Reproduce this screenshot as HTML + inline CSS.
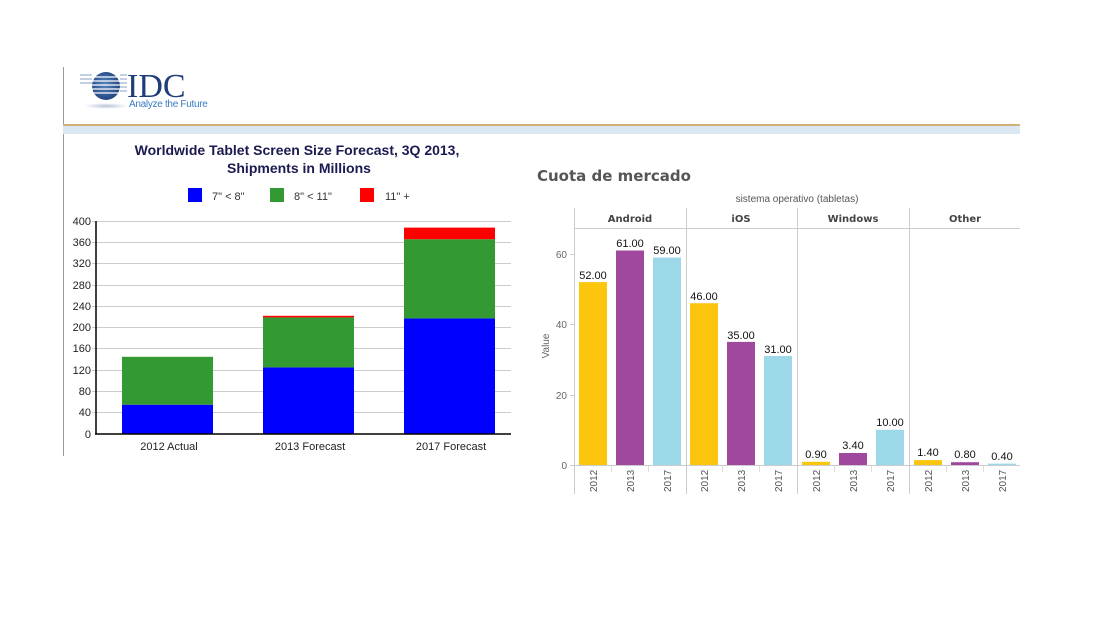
<!DOCTYPE html>
<html><head><meta charset="utf-8"><style>
html,body{margin:0;padding:0;background:#fff;}
svg{display:block;font-family:"Liberation Sans",Arial,sans-serif;}
</style></head><body>
<svg width="1118" height="620" viewBox="0 0 1118 620" xmlns="http://www.w3.org/2000/svg">
<rect width="1118" height="620" fill="#fff"/>
<!-- left border -->
<line x1="63.5" y1="67" x2="63.5" y2="456" stroke="#9a9a9a" stroke-width="1"/>
<!-- logo -->
<defs><radialGradient id="g" cx="45%" cy="45%" r="60%"><stop offset="0" stop-color="#5a86c0"/><stop offset="1" stop-color="#1c3f7a"/></radialGradient>
<radialGradient id="sh" cx="50%" cy="50%" r="50%"><stop offset="0" stop-color="#b8c4d8"/><stop offset="1" stop-color="#fff"/></radialGradient></defs>
<ellipse cx="106" cy="106" rx="22" ry="3" fill="url(#sh)"/>
<circle cx="106" cy="86" r="14" fill="url(#g)"/>
<g stroke="#fff" stroke-width="1.2">
<line x1="90" y1="77" x2="122" y2="77"/><line x1="90" y1="81" x2="122" y2="81"/><line x1="90" y1="85" x2="122" y2="85"/><line x1="90" y1="89" x2="122" y2="89"/><line x1="90" y1="93" x2="122" y2="93"/></g>
<g stroke="#8aa0c4" stroke-width="1"><line x1="80" y1="75" x2="92" y2="75"/><line x1="80" y1="79" x2="92" y2="79"/><line x1="80" y1="83" x2="92" y2="83"/><line x1="120" y1="75" x2="127" y2="75"/><line x1="120" y1="79" x2="127" y2="79"/><line x1="120" y1="83" x2="127" y2="83"/><line x1="120" y1="87" x2="127" y2="87"/><line x1="120" y1="91" x2="127" y2="91"/></g>
<text x="127" y="97" font-family="Liberation Serif,serif" font-size="34" fill="#1f3d7a">IDC</text>
<text x="129" y="107" font-size="10" fill="#3a7cc0" letter-spacing="-0.3">Analyze the Future</text>
<!-- header lines -->
<rect x="63" y="124" width="957" height="2" fill="#d2b07a"/>
<rect x="63" y="126" width="957" height="8" fill="#dbe7f3"/>
<!-- left chart -->
<text x="297" y="155" text-anchor="middle" font-size="14" font-weight="bold" fill="#1a1a50">Worldwide Tablet Screen Size Forecast, 3Q 2013,</text>
<text x="299" y="173" text-anchor="middle" font-size="14" font-weight="bold" fill="#1a1a50">Shipments in Millions</text>
<rect x="188" y="188" width="14" height="14" fill="#0000ff"/><text x="212" y="200" font-size="11" fill="#333">7" &lt; 8"</text>
<rect x="270" y="188" width="14" height="14" fill="#339933"/><text x="294" y="200" font-size="11" fill="#333">8" &lt; 11"</text>
<rect x="360" y="188" width="14" height="14" fill="#ff0000"/><text x="385" y="200" font-size="11" fill="#333">11" +</text>
<g stroke="#cccccc" stroke-width="1">
<line x1="92" y1="221.5" x2="511" y2="221.5"/><line x1="92" y1="242.5" x2="511" y2="242.5"/><line x1="92" y1="263.5" x2="511" y2="263.5"/><line x1="92" y1="285.5" x2="511" y2="285.5"/><line x1="92" y1="306.5" x2="511" y2="306.5"/><line x1="92" y1="327.5" x2="511" y2="327.5"/><line x1="92" y1="348.5" x2="511" y2="348.5"/><line x1="92" y1="370.5" x2="511" y2="370.5"/><line x1="92" y1="391.5" x2="511" y2="391.5"/><line x1="92" y1="412.5" x2="511" y2="412.5"/></g>
<g font-size="11" fill="#222" text-anchor="end">
<text x="91" y="225">400</text><text x="91" y="246">360</text><text x="91" y="267">320</text><text x="91" y="289">280</text><text x="91" y="310">240</text><text x="91" y="331">200</text><text x="91" y="352">160</text><text x="91" y="374">120</text><text x="91" y="395">80</text><text x="91" y="416">40</text><text x="91" y="438">0</text></g>
<!-- bars -->
<rect x="122" y="404.7" width="91" height="29.3" fill="#0000ff"/>
<rect x="122" y="356.8" width="91" height="47.9" fill="#339933"/>
<rect x="263" y="367.4" width="91" height="66.6" fill="#0000ff"/>
<rect x="263" y="317.4" width="91" height="50" fill="#339933"/>
<rect x="263" y="315.8" width="91" height="1.6" fill="#ff0000"/>
<rect x="404" y="318.4" width="91" height="115.6" fill="#0000ff"/>
<rect x="404" y="239.2" width="91" height="79.2" fill="#339933"/>
<rect x="404" y="227.6" width="91" height="11.6" fill="#ff0000"/>
<line x1="96" y1="221" x2="96" y2="434" stroke="#000" stroke-width="1.5"/>
<line x1="95" y1="434" x2="511" y2="434" stroke="#000" stroke-width="1.5"/>
<g font-size="11" fill="#222" text-anchor="middle"><text x="169" y="450">2012 Actual</text><text x="310" y="450">2013 Forecast</text><text x="451" y="450">2017 Forecast</text></g>
<!-- right chart -->
<text x="537" y="181" font-size="15" font-weight="bold" fill="#555" font-family="DejaVu Sans,sans-serif">Cuota de mercado</text>
<text x="797" y="202" text-anchor="middle" font-size="10" fill="#555">sistema operativo (tabletas)</text>
<g stroke="#cccccc" stroke-width="1">
<line x1="574.5" y1="208" x2="574.5" y2="494"/><line x1="686.5" y1="208" x2="686.5" y2="494"/><line x1="797.5" y1="208" x2="797.5" y2="494"/><line x1="909.5" y1="208" x2="909.5" y2="494"/>
<line x1="575" y1="228.5" x2="1020" y2="228.5"/><line x1="575" y1="465.5" x2="1020" y2="465.5"/>
<line x1="570" y1="254.5" x2="575" y2="254.5"/><line x1="570" y1="324.5" x2="575" y2="324.5"/><line x1="570" y1="395.5" x2="575" y2="395.5"/><line x1="570" y1="465.5" x2="575" y2="465.5"/></g>
<g font-size="11" fill="#444" text-anchor="middle" font-weight="bold" font-family="DejaVu Sans,sans-serif"><text x="630" y="222" font-size="10">Android</text><text x="741" y="222" font-size="10">iOS</text><text x="853" y="222" font-size="10">Windows</text><text x="965" y="222" font-size="10">Other</text></g>
<g font-size="10" fill="#666" text-anchor="end"><text x="567" y="258">60</text><text x="567" y="328">40</text><text x="567" y="399">20</text><text x="567" y="469">0</text></g>
<text transform="translate(549,346) rotate(-90)" text-anchor="middle" font-size="10" fill="#666">Value</text>
<g>
<rect x="579" y="282.1" width="28" height="182.9" fill="#fcc50e"/>
<rect x="616" y="250.5" width="28" height="214.5" fill="#a0489e"/>
<rect x="653" y="257.5" width="28" height="207.5" fill="#9cd8e8"/>
<rect x="690" y="303.2" width="28" height="161.8" fill="#fcc50e"/>
<rect x="727" y="341.9" width="28" height="123.1" fill="#a0489e"/>
<rect x="764" y="356" width="28" height="109" fill="#9cd8e8"/>
<rect x="802" y="461.8" width="28" height="3.2" fill="#fcc50e"/>
<rect x="839" y="453" width="28" height="12" fill="#a0489e"/>
<rect x="876" y="429.8" width="28" height="35.2" fill="#9cd8e8"/>
<rect x="914" y="460.1" width="28" height="4.9" fill="#fcc50e"/>
<rect x="951" y="462.2" width="28" height="2.8" fill="#a0489e"/>
<rect x="988" y="463.6" width="28" height="1.4" fill="#9cd8e8"/>
</g>
<g font-size="11" fill="#111" text-anchor="middle">
<text x="593" y="279">52.00</text><text x="630" y="247">61.00</text><text x="667" y="254">59.00</text>
<text x="704" y="300">46.00</text><text x="741" y="339">35.00</text><text x="778" y="353">31.00</text>
<text x="816" y="458">0.90</text><text x="853" y="449">3.40</text><text x="890" y="426">10.00</text>
<text x="928" y="456">1.40</text><text x="965" y="458">0.80</text><text x="1002" y="460">0.40</text></g>
<g font-size="10" fill="#555">
<text transform="translate(597,492) rotate(-90)">2012</text><text transform="translate(634,492) rotate(-90)">2013</text><text transform="translate(671,492) rotate(-90)">2017</text>
<text transform="translate(708,492) rotate(-90)">2012</text><text transform="translate(745,492) rotate(-90)">2013</text><text transform="translate(782,492) rotate(-90)">2017</text>
<text transform="translate(820,492) rotate(-90)">2012</text><text transform="translate(857,492) rotate(-90)">2013</text><text transform="translate(894,492) rotate(-90)">2017</text>
<text transform="translate(932,492) rotate(-90)">2012</text><text transform="translate(969,492) rotate(-90)">2013</text><text transform="translate(1006,492) rotate(-90)">2017</text></g>
<g stroke="#dddddd"><line x1="611.5" y1="466" x2="611.5" y2="472"/><line x1="648.5" y1="466" x2="648.5" y2="472"/><line x1="722.5" y1="466" x2="722.5" y2="472"/><line x1="759.5" y1="466" x2="759.5" y2="472"/><line x1="834.5" y1="466" x2="834.5" y2="472"/><line x1="871.5" y1="466" x2="871.5" y2="472"/><line x1="946.5" y1="466" x2="946.5" y2="472"/><line x1="983.5" y1="466" x2="983.5" y2="472"/></g>
</svg>
</body></html>
